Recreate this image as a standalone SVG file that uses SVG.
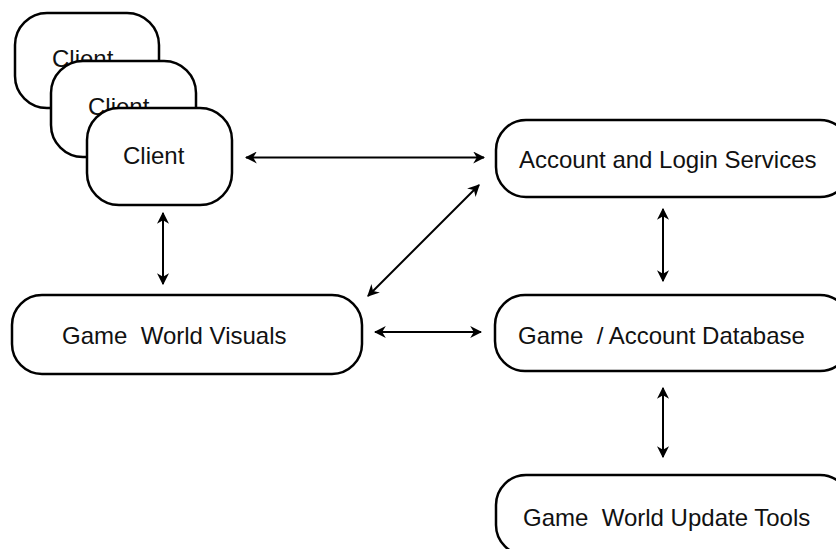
<svg xmlns="http://www.w3.org/2000/svg" width="836" height="549" viewBox="0 0 836 549">
<style>
.box{fill:#fff;stroke:#000;stroke-width:2.5}
.lbl{font-family:"Liberation Sans",Arial,sans-serif;font-size:24px;fill:#111;white-space:pre}
.con{stroke:#000;stroke-width:2;fill:none;marker-start:url(#ah);marker-end:url(#ah)}
</style>
<defs>
<marker id="ah" viewBox="0 0 10 10" refX="9" refY="5" markerWidth="6" markerHeight="6" orient="auto-start-reverse" markerUnits="strokeWidth">
<path d="M0,0 L10,5 L0,10 L3,5 Z" fill="#000"/>
</marker>
</defs>
<rect width="836" height="549" fill="#fff"/>
<g id="client1"><rect class="box" x="15" y="13" width="144" height="95" rx="32"/><text class="lbl" x="52" y="67">Client</text></g>
<g id="client2"><rect class="box" x="51" y="61" width="145" height="96" rx="32"/><text class="lbl" x="88" y="115">Client</text></g>
<g id="client3"><rect class="box" x="87" y="108" width="145" height="97" rx="32"/><text class="lbl" x="123" y="164">Client</text></g>
<g id="account"><rect class="box" x="496" y="120" width="354" height="77" rx="30"/><text class="lbl" x="519" y="168">Account and Login Services</text></g>
<g id="visuals"><rect class="box" x="12" y="295" width="350" height="79" rx="30"/><text class="lbl" x="62" y="344">Game  World Visuals</text></g>
<g id="database"><rect class="box" x="495" y="295" width="355" height="76" rx="30"/><text class="lbl" x="518" y="344">Game  / Account Database</text></g>
<g id="tools"><rect class="box" x="496" y="475" width="354" height="80" rx="30"/><text class="lbl" x="523" y="526">Game  World Update Tools</text></g>
<g id="connectors">
<line class="con" x1="246" y1="157.5" x2="484" y2="157.5"/>
<line class="con" x1="163" y1="213" x2="163" y2="284"/>
<line class="con" x1="479" y1="185" x2="368" y2="296"/>
<line class="con" x1="375" y1="332" x2="481" y2="332"/>
<line class="con" x1="663" y1="209" x2="663" y2="281"/>
<line class="con" x1="663" y1="388" x2="663" y2="457"/>
</g>
</svg>
